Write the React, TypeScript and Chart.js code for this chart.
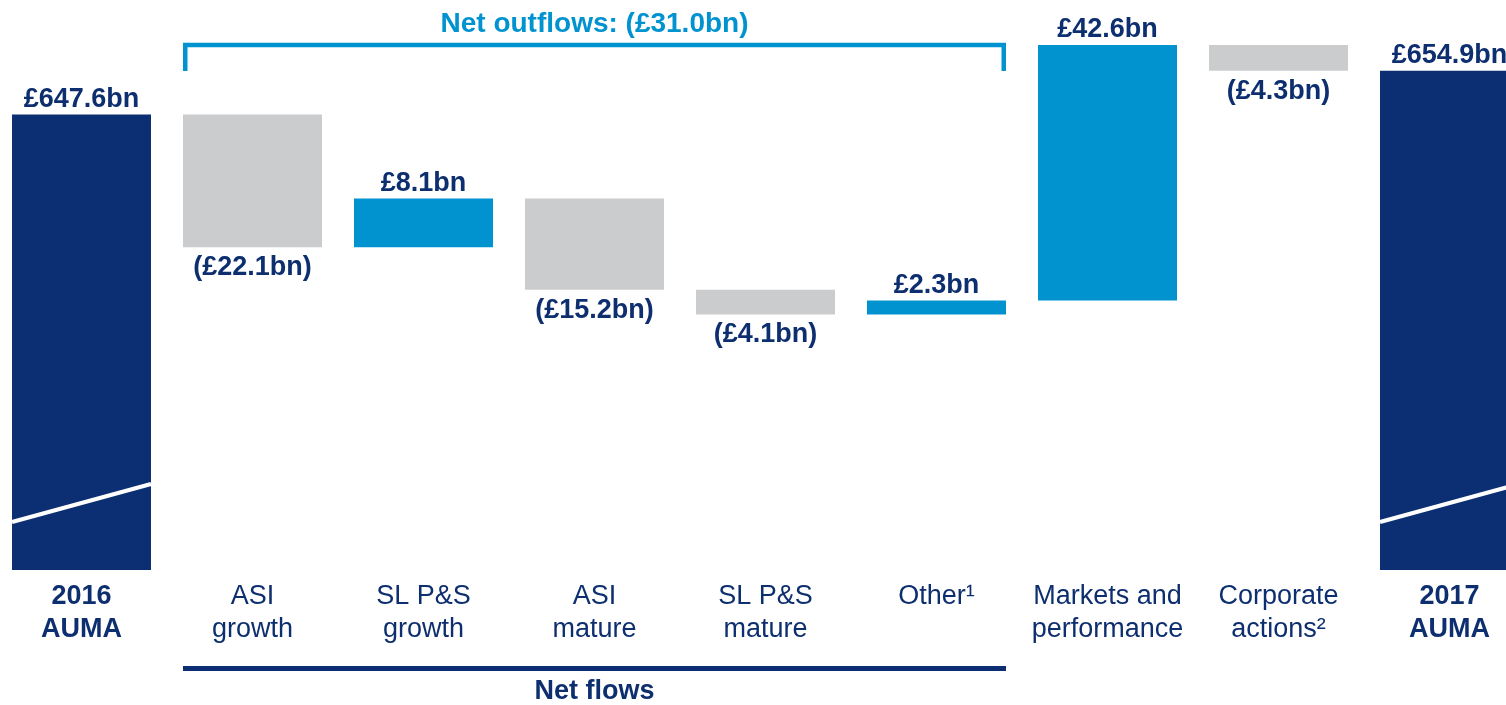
import React, { useEffect, useRef } from 'react';
import { Chart, registerables } from 'chart.js';

Chart.register(...registerables);

// ---- data ----
const categories: string[][] = [
  ['2016', 'AUMA'],
  ['ASI', 'growth'],
  ['SL P&S', 'growth'],
  ['ASI', 'mature'],
  ['SL P&S', 'mature'],
  ['Other¹'],
  ['Markets and', 'performance'],
  ['Corporate', 'actions²'],
  ['2017', 'AUMA'],
];
const totals: (number | null)[] = [647.6, null, null, null, null, null, null, null, 654.9];
const deltas: (number | null)[] = [null, -22.1, 8.1, -15.2, -4.1, 2.3, 42.6, -4.3, null];
const netOutflowsLabel = 'Net outflows: (£31.0bn)';
const netFlowsLabel = 'Net flows';
const netFlowsFirst = 1;
const netFlowsLast = 5;
const axisMin = 571.7;
const axisMax = 659.2;

// ---- styles ----
const NAVY = '#0c2e72';
const TEXT_NAVY = '#0e2f6f';
const BLUE = '#0093cf';
const GREY = '#cbcccd';
const FONT = "'Liberation Sans', Arial, Helvetica, sans-serif";

function fmt(v: number, total: boolean): string {
  const s = `£${Math.abs(v).toFixed(1)}bn`;
  return !total && v < 0 ? `(${s})` : s;
}

// build waterfall ranges
const ranges: [number, number][] = [];
{
  let running = 0;
  categories.forEach((_, i) => {
    const t = totals[i];
    if (t !== null && t !== undefined) {
      ranges.push([axisMin, t]);
      running = t;
    } else {
      const d = deltas[i] as number;
      const next = Math.round((running + d) * 10) / 10;
      ranges.push([running, next]);
      running = next;
    }
  });
}
const barColors = categories.map((_, i) =>
  totals[i] !== null ? NAVY : (deltas[i] as number) >= 0 ? BLUE : GREY
);

const annotationPlugin = {
  id: 'waterfallAnnotations',
  afterDatasetsDraw(chart: any) {
    const { ctx, chartArea } = chart;
    const yScale = chart.scales.y;
    const meta = chart.getDatasetMeta(0);
    ctx.save();

    // bars: break marks + value labels
    meta.data.forEach((el: any, i: number) => {
      const { x, width } = el.getProps(['x', 'width'], true);
      const [a, b] = ranges[i];
      const topPx = yScale.getPixelForValue(Math.max(a, b));
      const botPx = yScale.getPixelForValue(Math.min(a, b));
      const isTot = totals[i] !== null;
      if (isTot) {
        ctx.strokeStyle = '#ffffff';
        ctx.lineWidth = 4;
        ctx.beginPath();
        ctx.moveTo(x - width / 2, botPx - 48);
        ctx.lineTo(x + width / 2, botPx - 86);
        ctx.stroke();
      }
      const v = isTot ? (totals[i] as number) : (deltas[i] as number);
      ctx.font = `bold 27px ${FONT}`;
      ctx.fillStyle = TEXT_NAVY;
      ctx.textAlign = 'center';
      ctx.textBaseline = 'alphabetic';
      if (isTot || v >= 0) {
        ctx.fillText(fmt(v, isTot), x, topPx - 8);
      } else {
        ctx.fillText(fmt(v, isTot), x, botPx + 28);
      }
    });

    // brackets
    const e1: any = meta.data[netFlowsFirst];
    const e2: any = meta.data[netFlowsLast];
    const x1 = e1.x - e1.width / 2;
    const x2 = e2.x + e2.width / 2;
    const top = chartArea.top;

    ctx.strokeStyle = BLUE;
    ctx.lineWidth = 4.5;
    ctx.lineJoin = 'miter';
    ctx.beginPath();
    ctx.moveTo(x1 + 2.25, top + 26);
    ctx.lineTo(x1 + 2.25, top);
    ctx.lineTo(x2 - 2.25, top);
    ctx.lineTo(x2 - 2.25, top + 26);
    ctx.stroke();

    ctx.font = `bold 28px ${FONT}`;
    ctx.fillStyle = BLUE;
    ctx.textAlign = 'center';
    ctx.fillText(netOutflowsLabel, (x1 + x2) / 2, top - 13.5);

    const bottom = chartArea.bottom;
    ctx.strokeStyle = NAVY;
    ctx.lineWidth = 5;
    ctx.beginPath();
    ctx.moveTo(x1, bottom + 98.5);
    ctx.lineTo(x2, bottom + 98.5);
    ctx.stroke();

    ctx.font = `bold 27px ${FONT}`;
    ctx.fillStyle = TEXT_NAVY;
    ctx.fillText(netFlowsLabel, (x1 + x2) / 2, bottom + 129);

    ctx.restore();
  },
};

export default function App() {
  const canvasRef = useRef<HTMLCanvasElement | null>(null);

  useEffect(() => {
    if (!canvasRef.current) return;
    const chart = new Chart(canvasRef.current, {
      type: 'bar',
      data: {
        labels: categories,
        datasets: [
          {
            data: ranges as any,
            backgroundColor: barColors,
            borderWidth: 0,
            barPercentage: 1,
            categoryPercentage: 139 / 171,
          },
        ],
      },
      options: {
        responsive: false,
        animation: false,
        devicePixelRatio: 1,
        layout: { padding: { top: 45, left: 0, right: 0, bottom: 0 } },
        plugins: {
          legend: { display: false },
          tooltip: { enabled: false },
          title: { display: false },
        },
        scales: {
          x: {
            offset: true,
            grid: { display: false, drawTicks: false },
            border: { display: false },
            ticks: {
              autoSkip: false,
              maxRotation: 0,
              minRotation: 0,
              padding: 10.5,
              color: TEXT_NAVY,
              font: (c: any) => ({
                family: FONT,
                size: 27,
                lineHeight: 1.22,
                weight: totals[c.index] !== null && totals[c.index] !== undefined ? 'bold' : 'normal',
              }),
            },
            afterFit: (scale: any) => {
              scale.height = 135;
            },
          },
          y: {
            display: false,
            min: axisMin,
            max: axisMax,
          },
        },
      },
      plugins: [annotationPlugin],
    });
    return () => chart.destroy();
  }, []);

  return (
    <div
      style={{
        position: 'fixed',
        left: 0,
        top: 0,
        width: 1506,
        height: 705,
        overflow: 'hidden',
        background: '#ffffff',
      }}
    >
      <canvas
        ref={canvasRef}
        width={1539}
        height={705}
        style={{ position: 'absolute', left: -4, top: 0, width: 1539, height: 705 }}
      />
    </div>
  );
}
